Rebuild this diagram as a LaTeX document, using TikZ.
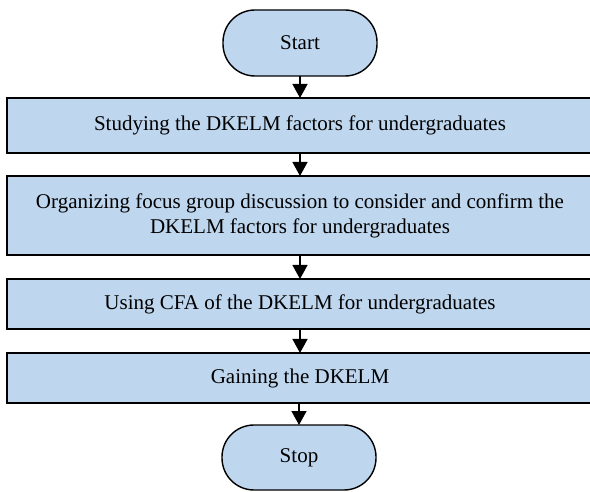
\documentclass[tikz,border=0pt]{standalone}
\usepackage{fontspec}
\setmainfont{Liberation Serif}
\usetikzlibrary{arrows.meta}
\definecolor{boxblue}{RGB}{190,214,238}
\begin{document}
\begin{tikzpicture}[x=1pt,y=-1pt,
  terminal/.style={draw=black, fill=boxblue, line width=1.4pt, rounded corners=32pt,
    minimum width=154pt, minimum height=66pt, inner sep=0pt, outer sep=0pt,
    font=\fontsize{21}{25}\selectfont},
  stepbox/.style={draw=black, fill=boxblue, line width=1.4pt,
    minimum width=586pt, inner sep=0pt, outer sep=0pt, align=center,
    font=\fontsize{21}{25}\selectfont},
  flow/.style={line width=1.3pt, -{Triangle[width=15pt,length=14pt]}}]
\useasboundingbox (0,0) rectangle (590,492);
\node[terminal] (start) at (300,43) {Start};
\node[stepbox, minimum height=55pt] (b1) at (300,125.5) {Studying the DKELM factors for undergraduates};
\node[stepbox, minimum height=79pt] (b2) at (300,215.5) {Organizing focus group discussion to consider and confirm the\\DKELM factors for undergraduates};
\node[stepbox, minimum height=50pt] (b3) at (300,304) {Using CFA of the DKELM for undergraduates};
\node[stepbox, minimum height=50pt] (b4) at (300,378) {Gaining the DKELM};
\node[terminal, minimum height=65pt] (stop) at (299,457.5) {Stop};
\draw[flow] (start.south) -- (start.south |- b1.north);
\draw[flow] (start.south |- b1.south) -- (start.south |- b2.north);
\draw[flow] (start.south |- b2.south) -- (start.south |- b3.north);
\draw[flow] (start.south |- b3.south) -- (start.south |- b4.north);
\draw[flow] (stop.north |- b4.south) -- (stop.north);
\end{tikzpicture}
\end{document}
